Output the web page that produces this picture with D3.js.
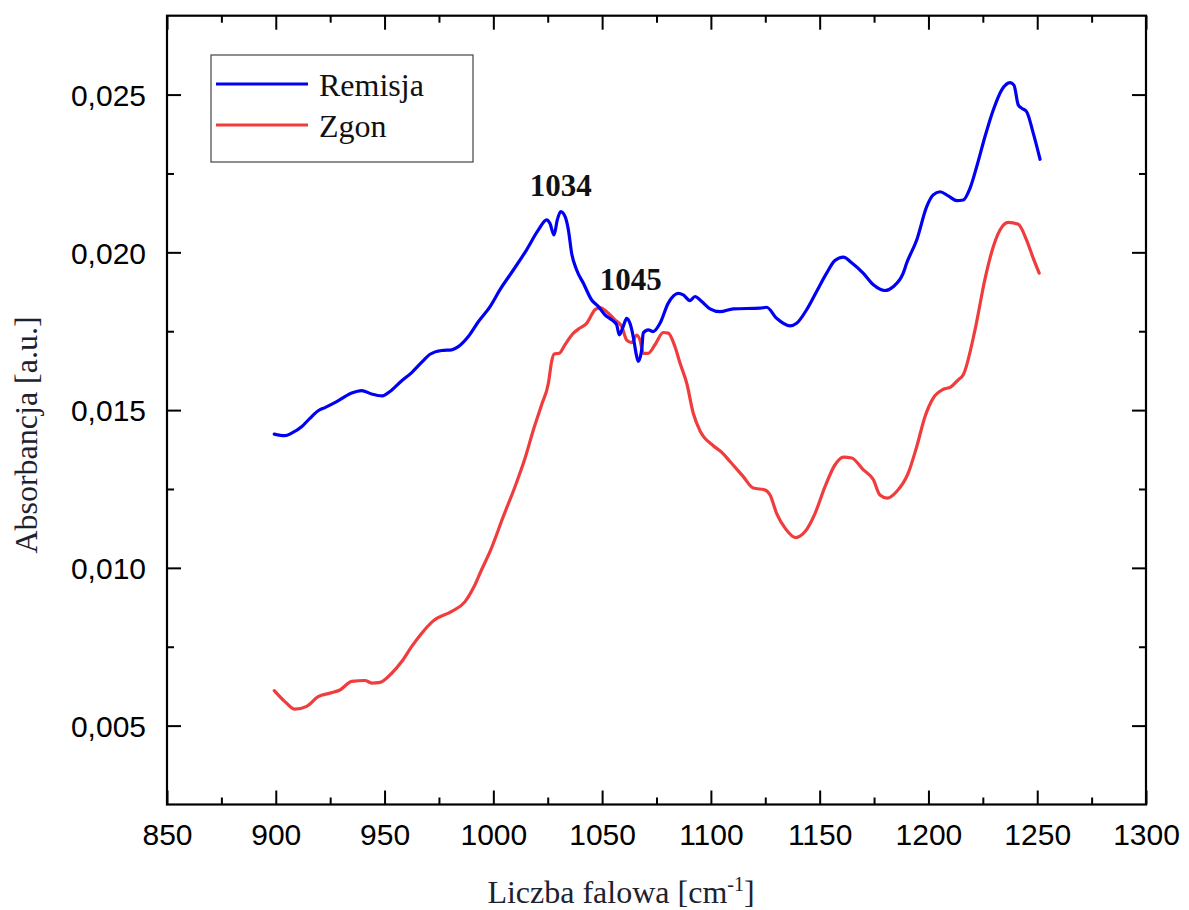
<!DOCTYPE html>
<html>
<head>
<meta charset="utf-8">
<script src="https://cdn.jsdelivr.net/npm/d3@7/dist/d3.min.js"></script>
<style>
  html, body { margin: 0; padding: 0; background: #fff; }
  svg { display: block; }
</style>
</head>
<body>
<svg id="chart" width="1189" height="910"></svg>
<script>
// Wavenumber ticks and absorbance ticks
const xTicksMajor = [850, 900, 950, 1000, 1050, 1100, 1150, 1200, 1250, 1300];
const xTicksMinor = [875, 925, 975, 1025, 1075, 1125, 1175, 1225, 1275];
const yTicksMajor = [0.005, 0.010, 0.015, 0.020, 0.025];
const yTicksMinor = [0.0075, 0.0125, 0.0175, 0.0225];

const seriesNames = ["Remisja", "Zgon"];
const seriesColors = ["#0000f5", "#f03c3c"];

// Remisja spectrum
const remisjaWn = [899.3, 904.2, 907.3, 912.0, 915.7, 919.5, 922.6, 928.0, 934.9, 939.5, 944.0, 949.0, 952.5, 957.9, 962.5, 967.0, 970.9, 976.3, 980.9, 983.9, 988.5, 993.1, 998.5, 1003.0, 1009.2, 1015.3, 1020.7, 1024.5, 1026.0, 1027.9, 1029.4, 1031.0, 1033.0, 1034.5, 1036.0, 1038.3, 1041.4, 1045.2, 1048.3, 1051.3, 1054.4, 1056.7, 1057.9, 1059.7, 1061.3, 1062.8, 1064.3, 1065.6, 1066.6, 1068.2, 1068.9, 1071.2, 1073.5, 1076.6, 1080.4, 1085.0, 1087.3, 1090.4, 1092.7, 1095.8, 1099.6, 1104.2, 1110.3, 1122.6, 1125.6, 1130.2, 1136.4, 1139.4, 1144.0, 1148.6, 1153.2, 1157.0, 1160.9, 1164.7, 1170.0, 1174.7, 1180.0, 1183.8, 1188.4, 1190.0, 1194.6, 1199.2, 1202.2, 1205.3, 1209.1, 1213.0, 1216.0, 1219.1, 1222.2, 1226.0, 1229.8, 1233.7, 1237.5, 1239.3, 1241.3, 1242.8, 1245.1, 1248.2, 1251.3];
const remisjaAbs = [0.01424, 0.01419, 0.01427, 0.01448, 0.01474, 0.01498, 0.01508, 0.01527, 0.01554, 0.01562, 0.01551, 0.01545, 0.01559, 0.01593, 0.01619, 0.01651, 0.01677, 0.01689, 0.01691, 0.01701, 0.01733, 0.01780, 0.01828, 0.01881, 0.01944, 0.02008, 0.02071, 0.02103, 0.02092, 0.02055, 0.02103, 0.02129, 0.02113, 0.02071, 0.01997, 0.01944, 0.01902, 0.01849, 0.01828, 0.01802, 0.01786, 0.01770, 0.01738, 0.01765, 0.01791, 0.01775, 0.01733, 0.01680, 0.01654, 0.01691, 0.01744, 0.01754, 0.01749, 0.01775, 0.01839, 0.01870, 0.01865, 0.01847, 0.01860, 0.01844, 0.01821, 0.01812, 0.01821, 0.01823, 0.01826, 0.01791, 0.01767, 0.01775, 0.01818, 0.01876, 0.01934, 0.01974, 0.01985, 0.01967, 0.01934, 0.01897, 0.01879, 0.01891, 0.01934, 0.01966, 0.02039, 0.02145, 0.02182, 0.02192, 0.02179, 0.02164, 0.02166, 0.02203, 0.02272, 0.02367, 0.02451, 0.02515, 0.02538, 0.02530, 0.02467, 0.02457, 0.02446, 0.02377, 0.02295];

// Zgon spectrum
const zgonWn = [899.3, 904.2, 908.8, 914.2, 919.5, 924.9, 929.5, 934.9, 941.0, 944.1, 947.9, 953.3, 957.9, 962.5, 967.1, 972.4, 980.9, 987.0, 990.8, 994.6, 998.5, 1004.6, 1010.0, 1014.6, 1018.4, 1022.2, 1025.3, 1026.8, 1027.9, 1030.3, 1032.9, 1036.8, 1039.8, 1042.9, 1046.7, 1049.0, 1052.1, 1055.9, 1059.0, 1061.3, 1063.6, 1065.9, 1067.4, 1068.9, 1071.2, 1074.3, 1078.1, 1080.4, 1083.5, 1085.8, 1088.9, 1091.9, 1095.0, 1101.1, 1105.0, 1108.8, 1114.9, 1119.5, 1124.9, 1127.2, 1130.2, 1134.1, 1139.0, 1143.3, 1147.9, 1152.5, 1157.0, 1160.9, 1164.7, 1170.0, 1174.7, 1177.7, 1181.1, 1185.4, 1190.7, 1194.6, 1198.4, 1202.2, 1206.8, 1210.2, 1213.7, 1216.0, 1221.4, 1226.0, 1229.8, 1232.9, 1236.7, 1241.3, 1245.1, 1248.2, 1250.9];
const zgonAbs = [0.00611, 0.00576, 0.00552, 0.00561, 0.00592, 0.00603, 0.00613, 0.00640, 0.00643, 0.00635, 0.00637, 0.00666, 0.00703, 0.00751, 0.00793, 0.00832, 0.00862, 0.00893, 0.00936, 0.00994, 0.01052, 0.01163, 0.01258, 0.01348, 0.01437, 0.01517, 0.01585, 0.01654, 0.01678, 0.01680, 0.01707, 0.01744, 0.01760, 0.01775, 0.01818, 0.01825, 0.01812, 0.01786, 0.01765, 0.01722, 0.01714, 0.01738, 0.01722, 0.01680, 0.01680, 0.01707, 0.01746, 0.01744, 0.01701, 0.01649, 0.01585, 0.01490, 0.01434, 0.01387, 0.01366, 0.01337, 0.01289, 0.01253, 0.01247, 0.01231, 0.01173, 0.01126, 0.01096, 0.01115, 0.01173, 0.01258, 0.01326, 0.01351, 0.01348, 0.01311, 0.01279, 0.01231, 0.01221, 0.01242, 0.01300, 0.01384, 0.01479, 0.01538, 0.01566, 0.01573, 0.01596, 0.01612, 0.01754, 0.01916, 0.02018, 0.02071, 0.02095, 0.02089, 0.02039, 0.01981, 0.01934];

// Peak annotations placed over local maxima of the Remisja curve
const peakLabels = ["1034", "1045"];
const peakAt = [1031.0, 1061.3];

const svg = d3.select("#chart");
const plotLeft = 167, plotRight = 1146, plotTop = 15.7, plotBottom = 804.5;
const plotW = plotRight - plotLeft, plotH = plotBottom - plotTop;

const x = d3.scaleLinear().domain([850, 1300]).range([plotLeft, plotRight]);
const y = d3.scaleLinear().domain([0.0025, 0.0275]).range([plotBottom, plotTop]);

const locale = d3.formatLocale({ decimal: ",", thousands: " ", grouping: [3], currency: ["", ""] });
const fmtY = locale.format(".3f");

const tickFont = "'Liberation Sans', Arial, sans-serif";
const serifFont = "'Liberation Serif', 'Times New Roman', serif";

function styleAxis(g) {
  g.select(".domain").remove();
  g.selectAll(".tick line").attr("stroke", "#000").attr("stroke-width", 2);
}

// Bottom axis (labelled), inward ticks
const gBottom = svg.append("g").attr("transform", `translate(0,${plotBottom})`);
gBottom.call(d3.axisBottom(x).tickValues(xTicksMajor).tickSize(-14).tickPadding(0).tickFormat(d3.format("d")))
  .call(styleAxis);
gBottom.selectAll(".tick text")
  .attr("y", 40).attr("dy", null)
  .style("font-family", tickFont).style("font-size", "30px").attr("fill", "#000");
svg.append("g").attr("transform", `translate(0,${plotBottom})`)
  .call(d3.axisBottom(x).tickValues(xTicksMinor).tickSize(-7).tickFormat(""))
  .call(styleAxis);

// Top axis, inward ticks
svg.append("g").attr("transform", `translate(0,${plotTop})`)
  .call(d3.axisTop(x).tickValues(xTicksMajor).tickSize(-14).tickFormat(""))
  .call(styleAxis);
svg.append("g").attr("transform", `translate(0,${plotTop})`)
  .call(d3.axisTop(x).tickValues(xTicksMinor).tickSize(-7).tickFormat(""))
  .call(styleAxis);

// Left axis (labelled), inward ticks
const gLeft = svg.append("g").attr("transform", `translate(${plotLeft},0)`);
gLeft.call(d3.axisLeft(y).tickValues(yTicksMajor).tickSize(-14).tickFormat(fmtY))
  .call(styleAxis);
gLeft.selectAll(".tick text")
  .attr("x", -21).attr("dy", "0.36em")
  .style("font-family", tickFont).style("font-size", "30px").attr("fill", "#000");
svg.append("g").attr("transform", `translate(${plotLeft},0)`)
  .call(d3.axisLeft(y).tickValues(yTicksMinor).tickSize(-7).tickFormat(""))
  .call(styleAxis);

// Right axis, inward ticks
svg.append("g").attr("transform", `translate(${plotRight},0)`)
  .call(d3.axisRight(y).tickValues(yTicksMajor).tickSize(-14).tickFormat(""))
  .call(styleAxis);
svg.append("g").attr("transform", `translate(${plotRight},0)`)
  .call(d3.axisRight(y).tickValues(yTicksMinor).tickSize(-7).tickFormat(""))
  .call(styleAxis);

// Frame
svg.append("rect")
  .attr("x", plotLeft).attr("y", plotTop).attr("width", plotW).attr("height", plotH)
  .attr("fill", "none").attr("stroke", "#000").attr("stroke-width", 2.2);

// Spectra
const line = d3.line().x(d => x(d[0])).y(d => y(d[1])).curve(d3.curveMonotoneX);
const seriesData = [
  d3.zip(remisjaWn, remisjaAbs),
  d3.zip(zgonWn, zgonAbs)
];
// red drawn first, blue on top
[1, 0].forEach(i => {
  svg.append("path")
    .datum(seriesData[i])
    .attr("d", line)
    .attr("fill", "none")
    .attr("stroke", seriesColors[i])
    .attr("stroke-width", 3.2)
    .attr("stroke-linejoin", "round")
    .attr("stroke-linecap", "round");
});

// Peak labels, lifted above the curve point they mark
const labelLift = [16, 28];
const remisjaAt = wn => {
  const i = d3.bisectLeft(remisjaWn, wn);
  return remisjaAbs[Math.min(i, remisjaAbs.length - 1)];
};
peakLabels.forEach((lab, i) => {
  svg.append("text")
    .attr("x", x(peakAt[i]) + (i === 1 ? 4 : 0))
    .attr("y", y(remisjaAt(peakAt[i])) - labelLift[i])
    .attr("text-anchor", "middle")
    .style("font-family", serifFont)
    .style("font-weight", "bold")
    .style("font-size", "31px")
    .attr("fill", "#111")
    .text(lab);
});

// Legend
const lg = svg.append("g");
lg.append("rect")
  .attr("x", 211).attr("y", 55).attr("width", 262).attr("height", 107)
  .attr("fill", "#fff").attr("stroke", "#444").attr("stroke-width", 1.2);
seriesNames.forEach((name, i) => {
  const yy = 84 + i * 41;
  lg.append("line")
    .attr("x1", 216).attr("x2", 308).attr("y1", yy).attr("y2", yy)
    .attr("stroke", seriesColors[i]).attr("stroke-width", 3.2);
  lg.append("text")
    .attr("x", 319).attr("y", yy + 12)
    .style("font-family", serifFont).style("font-size", "32px")
    .attr("fill", "#111")
    .text(name);
});

// Axis titles
const xTitle = svg.append("text")
  .attr("x", 621).attr("y", 903)
  .attr("text-anchor", "middle")
  .style("font-family", serifFont).style("font-size", "32px")
  .attr("fill", "#1c2230");
xTitle.append("tspan").text("Liczba falowa [cm");
xTitle.append("tspan").attr("dy", -12).style("font-size", "20px").text("-1");
xTitle.append("tspan").attr("dy", 12).text("]");

svg.append("text")
  .attr("transform", `translate(37,435) rotate(-90)`)
  .attr("text-anchor", "middle")
  .style("font-family", serifFont).style("font-size", "32px")
  .attr("fill", "#1c2230")
  .text("Absorbancja [a.u.]");
</script>
</body>
</html>
